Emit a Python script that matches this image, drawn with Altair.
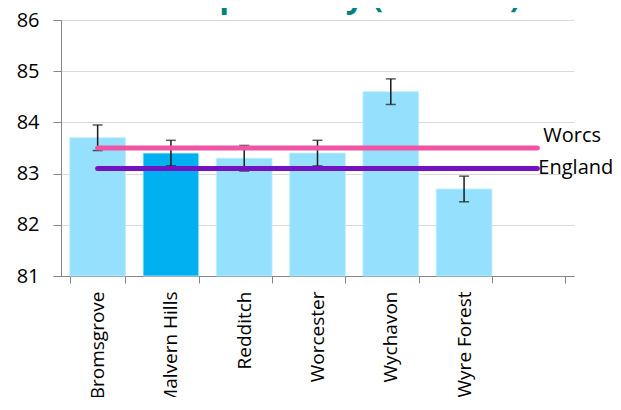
import altair as alt
import pandas as pd

districts = ["Bromsgrove", "Malvern Hills", "Redditch", "Worcester", "Wychavon", "Wyre Forest"]
values = [83.7, 83.4, 83.3, 83.4, 84.6, 82.7]
lower = [83.45, 83.15, 83.05, 83.15, 84.35, 82.45]
upper = [83.95, 83.65, 83.55, 83.65, 84.85, 82.95]
highlight = ["no", "yes", "no", "no", "no", "no"]
domain_cats = districts + [""]

ref_names = ["Worcs", "England"]
ref_values = [83.5, 83.1]
ref_colors = ["#F055A5", "#7412C2"]

title_text = "Life expectancy (females)"

df = pd.DataFrame({"district": districts, "value": values, "lo": lower, "hi": upper,
                   "hl": highlight})
ref = pd.DataFrame({"name": ref_names, "value": ref_values,
                    "start": [districts[0]] * 2, "end": [""] * 2})

FONT = "Open Sans"
xscale = alt.Scale(domain=domain_cats, paddingInner=0.24, paddingOuter=0.12)
yscale = alt.Scale(domain=[81, 86], nice=False, zero=False)

xenc = alt.X("district:N", scale=xscale, sort=domain_cats, title=None,
             axis=alt.Axis(labelAngle=270, labelFontSize=19, labelFont=FONT, labelColor="#000",
                           tickBand="extent", tickSize=7, tickColor="#868686",
                           domainColor="#868686", labelPadding=8, grid=False))
yenc = alt.Y("value:Q", scale=yscale, title=None,
             axis=alt.Axis(values=[81, 82, 83, 84, 85, 86], labelFontSize=20, labelFont=FONT,
                           labelColor="#000", tickSize=8, tickColor="#868686",
                           domainColor="#868686", labelPadding=14, gridColor="#D9D9D9",
                           format="d"))

bars = alt.Chart(df).mark_bar(stroke="#BDEEFE", strokeWidth=0.8).encode(
    x=xenc, y=yenc, y2=alt.datum(81),
    color=alt.Color("hl:N", scale=alt.Scale(domain=["no", "yes"], range=["#95E1FD", "#00B0F0"]),
                    legend=None),
)

err = alt.Chart(df).mark_rule(color="#1a1a1a", strokeWidth=1.5).encode(
    x=alt.X("district:N", scale=xscale, sort=domain_cats, bandPosition=0.5),
    y=alt.Y("lo:Q", scale=yscale), y2="hi:Q")
cap_lo = alt.Chart(df).mark_tick(color="#1a1a1a", size=10, thickness=1.5).encode(
    x=alt.X("district:N", scale=xscale, sort=domain_cats), y=alt.Y("lo:Q", scale=yscale))
cap_hi = alt.Chart(df).mark_tick(color="#1a1a1a", size=10, thickness=1.5).encode(
    x=alt.X("district:N", scale=xscale, sort=domain_cats), y=alt.Y("hi:Q", scale=yscale))

line_layers = []
for nm, col in zip(ref_names, ref_colors):
    line_layers.append(alt.Chart(ref[ref.name == nm]).mark_rule(
        strokeWidth=5, strokeCap="round", color=col).encode(
        x=alt.X("start:N", scale=xscale, sort=domain_cats, bandPosition=0.5),
        x2=alt.X2("end:N", bandPosition=0.5),
        y=alt.Y("value:Q", scale=yscale)))

worcs_lbl = alt.Chart(ref[ref.name == "Worcs"]).mark_text(
    align="left", baseline="alphabetic", dx=6, dy=-6, fontSize=20, font=FONT, color="#000").encode(
    x=alt.X("end:N", scale=xscale, sort=domain_cats, bandPosition=0.5),
    y=alt.Y("value:Q", scale=yscale), text="name:N")
eng_lbl = alt.Chart(ref[ref.name == "England"]).mark_text(
    align="left", baseline="middle", dx=1, dy=0, fontSize=20, font=FONT, color="#000").encode(
    x=alt.X("end:N", scale=xscale, sort=domain_cats, bandPosition=0.5),
    y=alt.Y("value:Q", scale=yscale), text="name:N")

title = alt.Chart(pd.DataFrame({"t": [title_text]})).mark_text(
    align="center", baseline="alphabetic", fontSize=32, fontWeight="bold", font=FONT,
    color="#00827F").encode(x=alt.value(256.5), y=alt.value(-13), text="t:N")

chart = alt.layer(bars, err, cap_lo, cap_hi, *line_layers, worcs_lbl, eng_lbl, title).properties(
    width=513, height=256,
    autosize=alt.AutoSizeParams(type="none"),
    padding={"left": 53, "top": 12, "right": 39, "bottom": 121},
).configure_view(stroke=None)

chart.save("out.html", embed_options={"renderer": "svg", "actions": False})
